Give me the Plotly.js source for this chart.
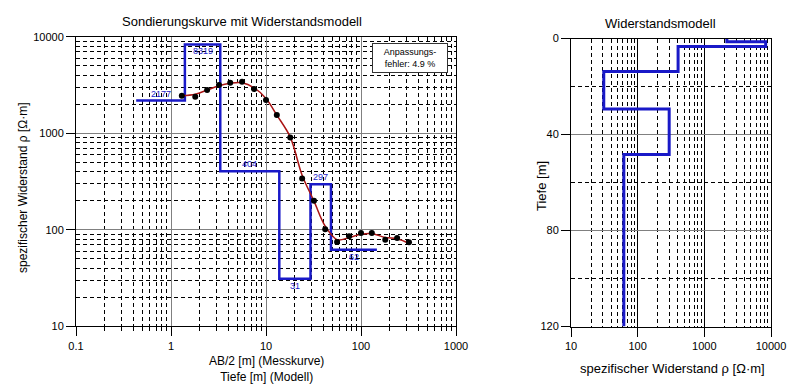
<!DOCTYPE html>
<html>
<head>
<meta charset="utf-8">
<script src="https://cdn.plot.ly/plotly-3.0.1.min.js"></script>
<style>html,body{margin:0;padding:0;background:#fff;}#chart{width:800px;height:388px;}</style>
</head>
<body>
<div id="chart"></div>
<script>
// ---- Data ----
// Measured sounding curve: AB/2 [m] and apparent resistivity [Ohm m]
const ab2 = [1.3, 1.8, 2.4, 3.2, 4.2, 5.6, 7.5, 10, 13, 18, 24, 32, 42, 56, 75, 100, 130, 180, 240, 320];
const rhoMeasured = [2443, 2388, 2800, 3155, 3335, 3412, 2864, 2205, 1541, 904, 340, 200, 101, 74.5, 85.7, 92.7, 92.7, 79, 82.2, 74.1];
// Model response (fitted curve)
const rhoFitted = [2443, 2530, 2800, 3105, 3290, 3335, 2958, 2296, 1541, 912, 367, 198, 109, 79, 83, 89.8, 91.4, 83, 80.7, 72.4];
// Layered resistivity model
const layerRho = [2177, 8319, 404, 31, 297, 62];
const layerBottom = [1.4, 3.3, 13.8, 29.4, 48.3];
const layerLabels = ["2177", "8319", "404", "31", "297", "62"];
const modelCurveStart = 0.43;
const modelCurveEnd = 147;
const profileMaxDepth = 120;
// Tick labels
const leftXTicks = [0.1, 1, 10, 100, 1000];
const leftXTickText = ["0.1", "1", "10", "100", "1000"];
const leftYTicks = [10, 100, 1000, 10000];
const leftYTickText = ["10", "100", "1000", "10000"];
const rightXTicks = [10, 100, 1000, 10000];
const rightXTickText = ["10", "100", "1000", "10000"];
const rightYTicks = [0, 40, 80, 120];
const rightYTickText = ["0", "40", "80", "120"];
const fitErrorText = "Anpassungs-<br>fehler: 4.9 %";

// ---- Build step lines ----
const stepX = [modelCurveStart], stepY = [layerRho[0]];
const profX = [layerRho[0]], profY = [0];
for (let i = 0; i < layerBottom.length; i++) {
  stepX.push(layerBottom[i], layerBottom[i]);
  stepY.push(layerRho[i], layerRho[i + 1]);
  profX.push(layerRho[i], layerRho[i + 1]);
  profY.push(layerBottom[i], layerBottom[i]);
}
stepX.push(modelCurveEnd); stepY.push(layerRho[layerRho.length - 1]);
profX.push(layerRho[layerRho.length - 1]); profY.push(profileMaxDepth);

const FONT = "Liberation Sans, Arial, sans-serif";
const BLUE = "rgb(25,25,200)";
const RED = "rgb(170,20,20)";

const traces = [
  {x: stepX, y: stepY, xaxis: "x", yaxis: "y", mode: "lines", line: {color: BLUE, width: 2.5}, hoverinfo: "skip"},
  {x: ab2, y: rhoFitted, xaxis: "x", yaxis: "y", mode: "lines", line: {color: RED, width: 1.5, shape: "spline", smoothing: 1}, hoverinfo: "skip"},
  {x: ab2, y: rhoMeasured, xaxis: "x", yaxis: "y", mode: "markers", marker: {color: "black", size: 6}, hoverinfo: "skip"},
  {x: profX, y: profY, xaxis: "x2", yaxis: "y2", mode: "lines", line: {color: BLUE, width: 3}, hoverinfo: "skip"}
];

// layer labels at geometric middle of each segment
const annotations = [];
const bounds = [modelCurveStart].concat(layerBottom).concat([modelCurveEnd]);
for (let i = 0; i < layerRho.length; i++) {
  const mid = Math.sqrt(bounds[i] * bounds[i + 1]);
  annotations.push({
    x: Math.log10(mid), y: Math.log10(layerRho[i]), xref: "x", yref: "y",
    xanchor: "center", yanchor: "middle",
    text: layerLabels[i], showarrow: false, font: {family: FONT, size: 9, color: BLUE},
    yshift: (i % 2 === 0) ? 7 : -7
  });
}

const W = 800, H = 388;
const px = v => v / W, py = v => 1 - v / H;
const paperNote = (x, y, text, size, extra) => Object.assign({
  x: px(x), y: py(y), xref: "paper", yref: "paper", xanchor: "center", yanchor: "middle",
  text: text, showarrow: false, font: {family: FONT, size: size, color: "black"}
}, extra || {});

annotations.push(
  paperNote(242, 21, "Sondierungskurve mit Widerstandsmodell", 13),
  paperNote(660, 23, "Widerstandsmodell", 13),
  paperNote(23, 188, "spezifischer Widerstand ρ [Ω·m]", 12, {textangle: -90}),
  paperNote(266, 369, "AB/2 [m] (Messkurve)<br>Tiefe [m] (Modell)", 12),
  paperNote(541, 186, "Tiefe [m]", 13, {textangle: -90}),
  paperNote(672, 368, "spezifischer Widerstand ρ [Ω·m]", 13),
  paperNote(410, 57.5, fitErrorText, 9, {bgcolor: "white", bordercolor: "#333", borderwidth: 1, width: 72, height: 26, align: "center"})
);

const MAJ = "#808080";
const dashStyle = "4px,3px";
const minorLog = {dtick: "D1", showgrid: true, gridcolor: "black", griddash: dashStyle, gridwidth: 1};

const layout = {
  width: W, height: H, margin: {l: 0, r: 0, t: 0, b: 0},
  paper_bgcolor: "white", plot_bgcolor: "white", showlegend: false,
  font: {family: FONT, size: 11, color: "black"},
  xaxis: {
    domain: [px(76), px(456)], type: "log", range: [-1, 3], tickmode: "array", tickvals: leftXTicks, ticktext: leftXTickText,
    ticks: "outside", ticklen: 9, tickcolor: "black", showline: true, linecolor: "black", linewidth: 1, mirror: true,
    showgrid: true, gridcolor: MAJ, gridwidth: 1, zeroline: false, anchor: "y",
    minor: Object.assign({}, minorLog, {ticks: "outside", ticklen: 4, tickcolor: "black"}),
    tickfont: {family: FONT, size: 11, color: "black"}
  },
  yaxis: {
    domain: [py(326.3), py(36.7)], type: "log", range: [1, 4], tickmode: "array", tickvals: leftYTicks, ticktext: leftYTickText,
    ticks: "outside", ticklen: 9, tickcolor: "black", showline: true, linecolor: "black", linewidth: 1, mirror: true,
    showgrid: true, gridcolor: MAJ, gridwidth: 1, zeroline: false, anchor: "x",
    minor: Object.assign({}, minorLog),
    tickfont: {family: FONT, size: 11, color: "black"}
  },
  xaxis2: {
    domain: [px(571), px(771)], type: "log", range: [1, 4], tickmode: "array", tickvals: rightXTicks, ticktext: rightXTickText,
    ticks: "outside", ticklen: 9, tickcolor: "black", showline: true, linecolor: "black", linewidth: 1, mirror: true,
    showgrid: true, gridcolor: "black", gridwidth: 1, zeroline: false, anchor: "y2",
    minor: Object.assign({}, minorLog),
    tickfont: {family: FONT, size: 11, color: "black"}
  },
  yaxis2: {
    domain: [py(326.5), py(38.5)], range: [profileMaxDepth, 0], tickmode: "array", tickvals: rightYTicks, ticktext: rightYTickText,
    ticks: "outside", ticklen: 9, tickcolor: "black", showline: true, linecolor: "black", linewidth: 1, mirror: true,
    showgrid: true, gridcolor: MAJ, gridwidth: 1, zeroline: false, anchor: "x2",
    minor: {dtick: 20, showgrid: true, gridcolor: "black", griddash: dashStyle, gridwidth: 1},
    tickfont: {family: FONT, size: 11, color: "black"}
  },
  annotations: annotations
};

Plotly.newPlot("chart", traces, layout, {staticPlot: true, displayModeBar: false});
</script>
</body>
</html>
